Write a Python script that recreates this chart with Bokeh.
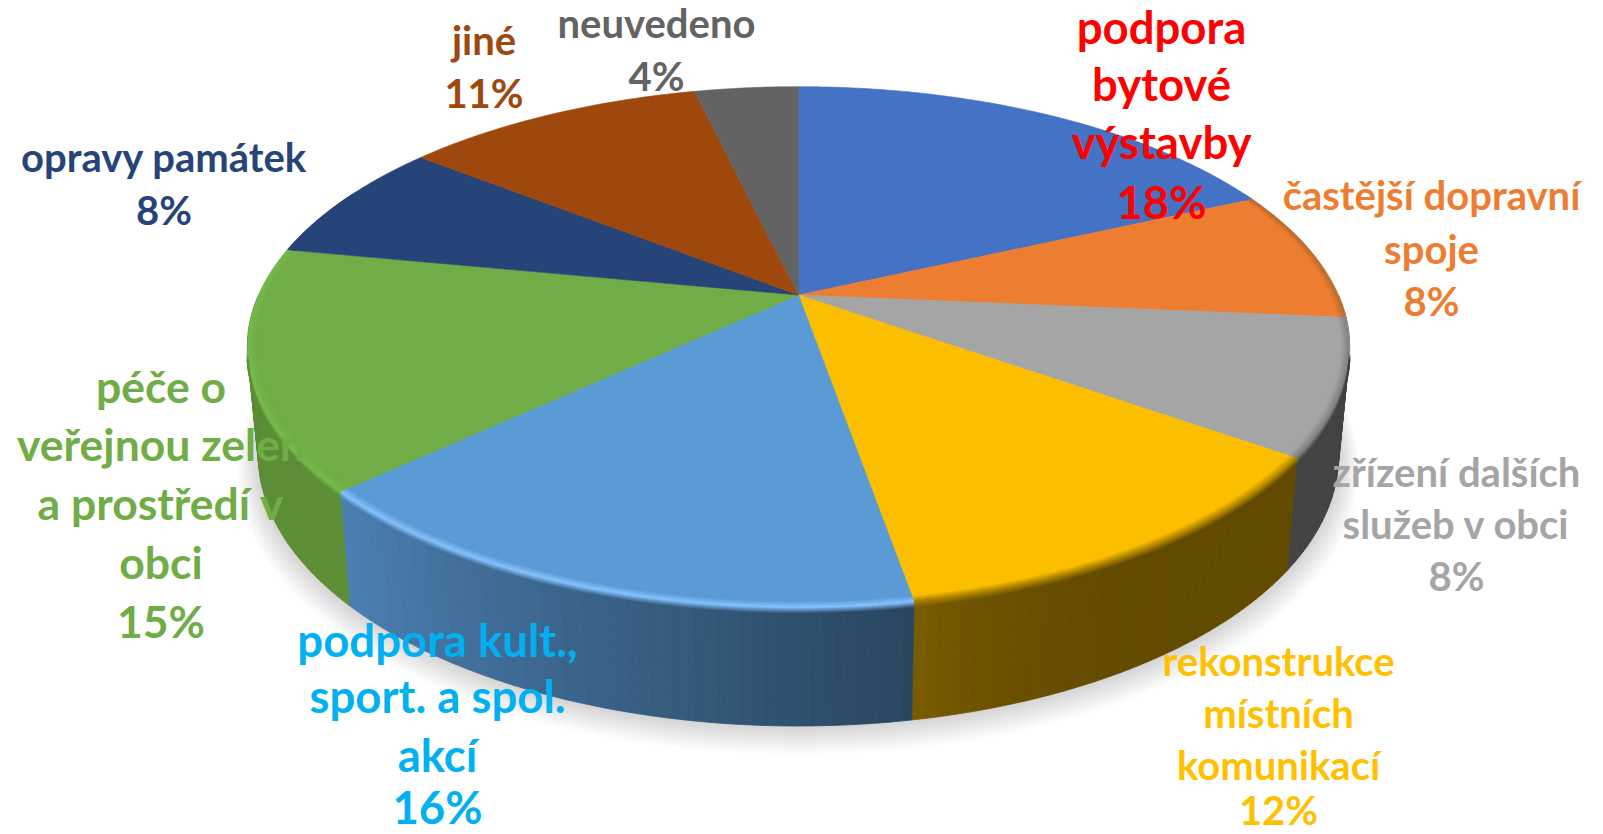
import math
from bokeh.plotting import figure
from bokeh.models import ColumnDataSource
from bokeh.core.properties import value
from bokeh.embed import file_html
from bokeh.resources import INLINE

# ---- data ----
categories = ["podpora bytové výstavby", "častější dopravní spoje", "zřízení dalších služeb v obci",
              "rekonstrukce místních komunikací", "podpora kult., sport. a spol. akcí",
              "péče o veřejnou zeleň a prostředí v obci", "opravy památek", "jiné", "neuvedeno"]
shares = [18.2, 8.2, 8.4, 12.45, 15.85, 14.9, 7.6, 10.7, 3.7]
percent_labels = ["18%", "8%", "8%", "12%", "16%", "15%", "8%", "11%", "4%"]
label_lines = [["podpora", "bytové", "výstavby"], ["častější dopravní", "spoje"],
               ["zřízení dalších", "služeb v obci"], ["rekonstrukce", "místních", "komunikací"],
               ["podpora kult.,", "sport. a spol.", "akcí"],
               ["péče o", "veřejnou zeleň", "a prostředí v", "obci"], ["opravy památek"], ["jiné"], ["neuvedeno"]]

# ---- styles ----
face_colors = ["#4472C4", "#ED7D31", "#A5A5A5", "#FBBF00", "#5B9BD5", "#70AD47", "#264478", "#9E480E", "#636363"]
label_colors = ["#FF0000", "#ED7D31", "#A5A5A5", "#FFC000", "#00B0F0", "#70AD47", "#264478", "#9E480E", "#636363"]
wall_start = ["#2a4a80", "#9a5020", "#404040", "#624a00", "#29465f", "#5d8f37", "#182c4e", "#662e09", "#404040"]
wall_end = ["#2a4a80", "#9a5020", "#444444", "#7a5c00", "#4b7fb2", "#5a8c35", "#182c4e", "#662e09", "#404040"]
wall_power = [1, 1, 1, 5, 1, 1, 1, 1, 1]
rim_colors = ["#4472C4", "#b06a35", "#7d7d7d", "#a98000", "#85c2ff", "#76bd4c", "#264478", "#9E480E", "#636363"]
# x, first-line y positions (px of the 1603x834 picture)
label_x = [1161, 1431, 1456, 1278, 437, 160.5, 163.6, 483.5, 656]
label_y = [[25.6, 83, 141, 201], [194, 248, 300], [471, 523, 575], [660, 712, 764, 809],
           [639, 695, 754, 806], [385, 443, 502, 561, 620], [156.5, 209.6], [39, 92], [22.5, 75.7]]
label_size = [45.5, 40, 40, 40, 45.5, 44.5, 40, 40, 40]

CX, CY, A, B, K = 798.0, 294.5, 540.0, 250.0, 0.2
DEPTH, SX, SY = 106.0, 0.98, 1.04


def top(th, r=1.0):
    u, v = r * math.sin(th), r * math.cos(th)
    d = 1 + K * v
    return CX + A * u / d, CY - B * v / d


def bottom(th):
    x, y = top(th)
    return CX + (x - CX) * SX, CY + DEPTH + (y - CY) * SY


def hex2rgb(c):
    return tuple(int(c[i:i + 2], 16) for i in (1, 3, 5))


def mix(c1, c2, t):
    a, b = hex2rgb(c1), hex2rgb(c2)
    return "#%02x%02x%02x" % tuple(round(a[i] + (b[i] - a[i]) * t) for i in range(3))


p = figure(width=1603, height=834, x_range=(0, 1603), y_range=(834, 0), output_backend="svg",
           toolbar_location=None, min_border=0, x_axis_type=None, y_axis_type=None,
           outline_line_color=None, background_fill_color="white", border_fill_color="white")
p.grid.visible = False

edges = [0.0]
for s in shares:
    edges.append(edges[-1] + s)
tot = edges[-1]
ang = [e / tot * 2 * math.pi for e in edges]

# soft shadow under the disc
N = 14
for i in range(N, 0, -1):
    g = i * 1.5
    ths = [j / 180 * math.pi for j in range(360)]
    xs, ys = [], []
    for th in ths:
        x, y = bottom(th)
        xs.append(CX + (x - CX) * (1 + g / 560))
        ys.append(CY + DEPTH * 0.9 + (y - CY - DEPTH * 0.9) * (1 + g / 400) + g * 0.5)
    p.patch(xs, ys, fill_color="black", fill_alpha=0.01, line_color=None)

# walls, as thin strips so that the shade runs across each slice
wx, wy, wc = [], [], []
for i in range(len(shares)):
    a0, a1 = max(ang[i], math.pi / 2), min(ang[i + 1], 3 * math.pi / 2)
    if a1 <= a0:
        continue
    n = max(1, int((a1 - a0) / math.radians(1.0)))
    for j in range(n):
        t0 = a0 + (a1 - a0) * j / n
        t1 = a0 + (a1 - a0) * (j + 1) / n
        P = [top(t0), top(t1), bottom(t1), bottom(t0)]
        wx.append([q[0] for q in P])
        wy.append([q[1] for q in P])
        wc.append(mix(wall_start[i], wall_end[i], ((j + 0.5) / n) ** wall_power[i]))
p.patches(wx, wy, fill_color=wc, line_color=wc, line_width=0.8)

# top faces
fx, fy = [], []
for i in range(len(shares)):
    n = max(2, int((ang[i + 1] - ang[i]) / math.radians(0.5)))
    P = [top(ang[i] + (ang[i + 1] - ang[i]) * j / n) for j in range(n + 1)]
    fx.append([CX] + [q[0] for q in P])
    fy.append([CY] + [q[1] for q in P])
p.patches(fx, fy, fill_color=face_colors, line_color=face_colors, line_width=0.6)

# rim: soft band where the top face rolls over into the wall
rx, ry, rc = [], [], []
W = 7
for i in range(len(shares)):
    for o in range(-W, W + 1):
        if o < 0:
            lo, hi = math.radians(64), math.radians(296)
        else:
            lo, hi = math.radians(103), math.radians(257)
        a0, a1 = max(ang[i], lo), min(ang[i + 1], hi)
        if a1 <= a0:
            continue
        n = max(2, int((a1 - a0) / math.radians(1.0)))
        for j in range(n):
            t0 = a0 + (a1 - a0) * j / n
            t1 = a0 + (a1 - a0) * (j + 1) / n
            if o < 0:
                col = mix(face_colors[i], rim_colors[i], (o + W) / W)
                P = [top(t0, 1 + o * 0.0022), top(t1, 1 + o * 0.0022)]
            else:
                wallmid = mix(wall_start[i], wall_end[i], ((j + 0.5) / n) ** wall_power[i])
                col = mix(rim_colors[i], wallmid, o / W)
                P = [(q[0], q[1] + o * 0.9) for q in (top(t0), top(t1))]
            rx.append([q[0] for q in P])
            ry.append([q[1] for q in P])
            rc.append(col)
p.multi_line(rx, ry, line_color=rc, line_width=1.7, line_cap="butt")

# labels
tx, ty, tt, tc, ts = [], [], [], [], []
for i in range(len(categories)):
    lines = label_lines[i] + [percent_labels[i]]
    for line, y in zip(lines, label_y[i]):
        tx.append(label_x[i])
        ty.append(y)
        tt.append(line)
        tc.append(label_colors[i])
        ts.append("%.1fpx" % label_size[i])
src = ColumnDataSource(dict(x=tx, y=ty, text=tt, color=tc, size=ts))
p.text("x", "y", text="text", text_color="color", text_font_size="size", source=src,
       text_font=value("Lato"), text_font_style="bold", text_align="center", text_baseline="middle")

open("out.html", "w").write(file_html(p, INLINE))
